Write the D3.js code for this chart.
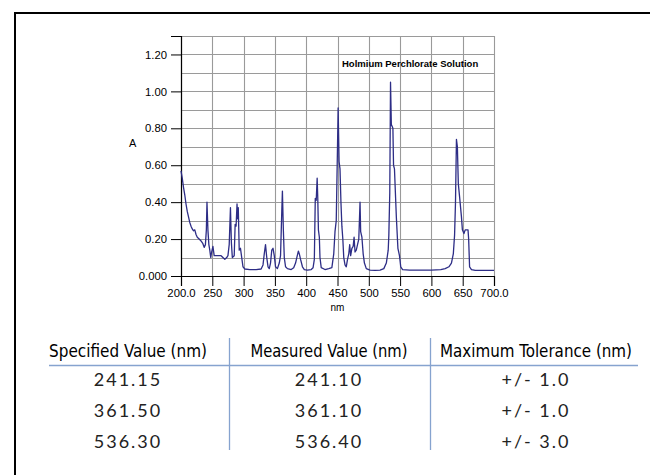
<!DOCTYPE html>
<html>
<head>
<meta charset="utf-8">
<script src="https://cdn.jsdelivr.net/npm/d3@7"></script>
<style>
  html, body { margin: 0; padding: 0; background: #fff; overflow: hidden; }
  svg { display: block; }
</style>
</head>
<body>
<div id="chart"></div>
<script>
// spectrum (nm, absorbance)
const wavelength = [200, 202, 204, 206, 208, 210, 212, 214, 216, 218, 220, 222, 224, 226, 229, 232, 235, 237, 239, 240.5,
  241.5, 243, 244.5, 246, 247.5, 249, 251, 253, 256, 260, 264, 267, 270, 273, 275, 277, 279, 280.5, 282, 285,
  286.5, 288, 289.5, 290.5, 291.5, 293, 295, 297, 299, 302, 310, 320, 328, 331, 333, 335, 337, 339, 341, 343,
  345, 347, 349, 351, 354, 357, 359, 361, 362, 363.5, 365, 367, 370, 376, 380, 383, 385, 387.5, 389, 391,
  394, 397, 402, 408, 411, 413, 414.5, 416, 417.5, 418.5, 419.5, 421, 422, 424, 430, 436, 441, 444, 446, 448,
  450, 451, 452.5, 454, 455.5, 457, 458.5, 460, 462, 464, 466, 468, 469.5, 471, 473, 475, 476.5, 478, 480, 482,
  484, 486, 487, 489, 491, 493, 496, 502, 510, 518, 524, 528, 531, 532, 533.5, 534.7, 536, 538.5, 539.5, 541,
  542.5, 544, 546.5, 549, 551, 554, 565, 580, 600, 615, 622, 628, 632, 635, 637, 638.5, 640, 641.5, 643, 645,
  648, 649.5, 652, 654, 656, 658.5, 659.5, 661, 664, 670, 680, 690, 700];
const absorbance = [0.57, 0.53, 0.48, 0.44, 0.39, 0.35, 0.32, 0.29, 0.27, 0.255, 0.245, 0.25, 0.225, 0.21, 0.20, 0.19, 0.175, 0.155, 0.17, 0.25,
  0.40, 0.25, 0.17, 0.14, 0.10, 0.13, 0.16, 0.11, 0.11, 0.11, 0.11, 0.10, 0.09, 0.10, 0.11, 0.17, 0.37, 0.18, 0.10, 0.11,
  0.28, 0.27, 0.39, 0.31, 0.37, 0.14, 0.15, 0.10, 0.05, 0.038, 0.035, 0.035, 0.038, 0.06, 0.12, 0.17, 0.10, 0.05, 0.04, 0.07,
  0.14, 0.15, 0.11, 0.05, 0.04, 0.07, 0.11, 0.35, 0.46, 0.25, 0.10, 0.05, 0.04, 0.035, 0.045, 0.07, 0.10, 0.135, 0.12, 0.09,
  0.05, 0.035, 0.032, 0.035, 0.045, 0.09, 0.42, 0.41, 0.53, 0.42, 0.25, 0.21, 0.10, 0.045, 0.035, 0.04, 0.045, 0.12, 0.24, 0.30,
  0.70, 0.91, 0.62, 0.58, 0.40, 0.27, 0.20, 0.10, 0.06, 0.05, 0.09, 0.12, 0.17, 0.11, 0.15, 0.16, 0.21, 0.13, 0.14, 0.17,
  0.20, 0.40, 0.24, 0.21, 0.12, 0.07, 0.04, 0.032, 0.03, 0.032, 0.04, 0.07, 0.14, 0.22, 0.45, 1.05, 0.82, 0.80, 0.60, 0.58,
  0.45, 0.32, 0.15, 0.11, 0.05, 0.035, 0.032, 0.032, 0.032, 0.035, 0.04, 0.05, 0.07, 0.12, 0.22, 0.40, 0.74, 0.70, 0.50, 0.43,
  0.32, 0.25, 0.23, 0.25, 0.25, 0.25, 0.20, 0.05, 0.035, 0.03, 0.03, 0.03, 0.03];

const xTicks = [200, 250, 300, 350, 400, 450, 500, 550, 600, 650, 700];
const yTicks = [0, 0.2, 0.4, 0.6, 0.8, 1.0, 1.2];
const yGrid = [0.1, 0.2, 0.3, 0.4, 0.5, 0.6, 0.7, 0.8, 0.9, 1.0, 1.1, 1.2, 1.3];

const chartTitle = "Holmium Perchlorate Solution";

// table
const headers = ["Specified Value (nm)", "Measured Value (nm)", "Maximum Tolerance (nm)"];
const specified = ["241.15", "361.50", "536.30"];
const measured = ["241.10", "361.10", "536.40"];
const tolerance = ["+/- 1.0", "+/- 1.0", "+/- 3.0"];

const W = 650, H = 475;
const svg = d3.select("#chart").append("svg")
    .attr("width", W).attr("height", H);

svg.append("rect").attr("width", W).attr("height", H).attr("fill", "#fff");

// frame (only left and top show inside the picture)
svg.append("path")
    .attr("d", "M15,480V13H660")
    .attr("fill", "none")
    .attr("stroke", "#000")
    .attr("stroke-width", 2);

const x = d3.scaleLinear().domain([200, 700]).range([181, 494]);
const y = d3.scaleLinear().domain([0, 1.3]).range([276, 36]);

const grid = svg.append("g").attr("stroke", "#9a9a9a").attr("stroke-width", 1.1);
grid.selectAll("line.v").data(xTicks).join("line")
    .attr("class", "v")
    .attr("x1", d => Math.round(x(d)) + 0.5).attr("x2", d => Math.round(x(d)) + 0.5)
    .attr("y1", y(0)).attr("y2", y(1.3));
grid.selectAll("line.h").data(yGrid).join("line")
    .attr("class", "h")
    .attr("x1", x(200)).attr("x2", x(700))
    .attr("y1", d => Math.round(y(d)) + 0.5).attr("y2", d => Math.round(y(d)) + 0.5);

const font = "'Liberation Sans', Arial, Helvetica, sans-serif";

const xAxis = d3.axisBottom(x)
    .tickValues(xTicks)
    .tickSize(10)
    .tickPadding(3)
    .tickFormat(d => (d === 200 || d === 700) ? d.toFixed(1) : d);
const gx = svg.append("g").attr("transform", `translate(0,${y(0)})`).call(xAxis);

const yAxis = d3.axisLeft(y)
    .tickValues(yTicks)
    .tickSize(10)
    .tickPadding(4)
    .tickFormat(d => d === 0 ? "0.000" : d.toFixed(2));
const gy = svg.append("g").attr("transform", `translate(${x(200)},0)`).call(yAxis);

[gx, gy].forEach(g => {
  g.selectAll("text").attr("font-family", font).attr("font-size", 11.3).attr("fill", "#000");
  g.selectAll("line, path").attr("stroke", "#000");
});
gx.select(".domain").attr("stroke-width", 1.2);
gy.select(".domain").attr("stroke-width", 1.2);

svg.append("text")
    .attr("x", (x(200) + x(700)) / 2).attr("y", 311)
    .attr("text-anchor", "middle")
    .attr("font-family", font).attr("font-size", 10)
    .text("nm");

svg.append("text")
    .attr("x", 129).attr("y", 147)
    .attr("font-family", font).attr("font-size", 11)
    .text("A");

svg.append("text")
    .attr("x", 342).attr("y", 67)
    .attr("font-family", font).attr("font-size", 9.5).attr("font-weight", "bold")
    .text(chartTitle);

const line = d3.line()
    .x((d, i) => x(wavelength[i]))
    .y(d => y(d));

svg.append("path")
    .datum(absorbance)
    .attr("d", line)
    .attr("fill", "none")
    .attr("stroke", "#2d2d86")
    .attr("stroke-width", 1.3)
    .attr("stroke-linejoin", "round");

// table below the chart
const colX = [128, 329, 536];
const headW = [158, 157, 192];
const ruleColor = "#86a3cf";
const tbl = svg.append("g");

tbl.selectAll("text.hd").data(headers).join("text")
    .attr("class", "hd")
    .attr("x", (d, i) => colX[i] - headW[i] / 2).attr("y", 357)
    .attr("textLength", (d, i) => headW[i])
    .attr("lengthAdjust", "spacingAndGlyphs")
    .attr("font-family", "'DejaVu Sans', sans-serif")
    .attr("font-stretch", "condensed")
    .attr("font-size", 18)
    .attr("fill", "#000")
    .text(d => d);

tbl.append("line")
    .attr("x1", 49).attr("x2", 638)
    .attr("y1", 365.5).attr("y2", 365.5)
    .attr("stroke", ruleColor).attr("stroke-width", 1.5);

tbl.selectAll("line.div").data([229, 430]).join("line")
    .attr("class", "div")
    .attr("x1", d => d + 0.5).attr("x2", d => d + 0.5)
    .attr("y1", 338).attr("y2", 450)
    .attr("stroke", ruleColor).attr("stroke-width", 1.3);

const rowY = [386, 417, 448];
[specified, measured, tolerance].forEach((col, ci) => {
  tbl.selectAll(`text.c${ci}`).data(col).join("text")
      .attr("class", `c${ci}`)
      .attr("x", colX[ci]).attr("y", (d, i) => rowY[i])
      .attr("text-anchor", "middle")
      .attr("font-family", "Lato, 'Open Sans', sans-serif")
      .attr("font-size", 18)
      .attr("letter-spacing", 2)
      .attr("fill", "#222")
      .text(d => d);
});
</script>
</body>
</html>
